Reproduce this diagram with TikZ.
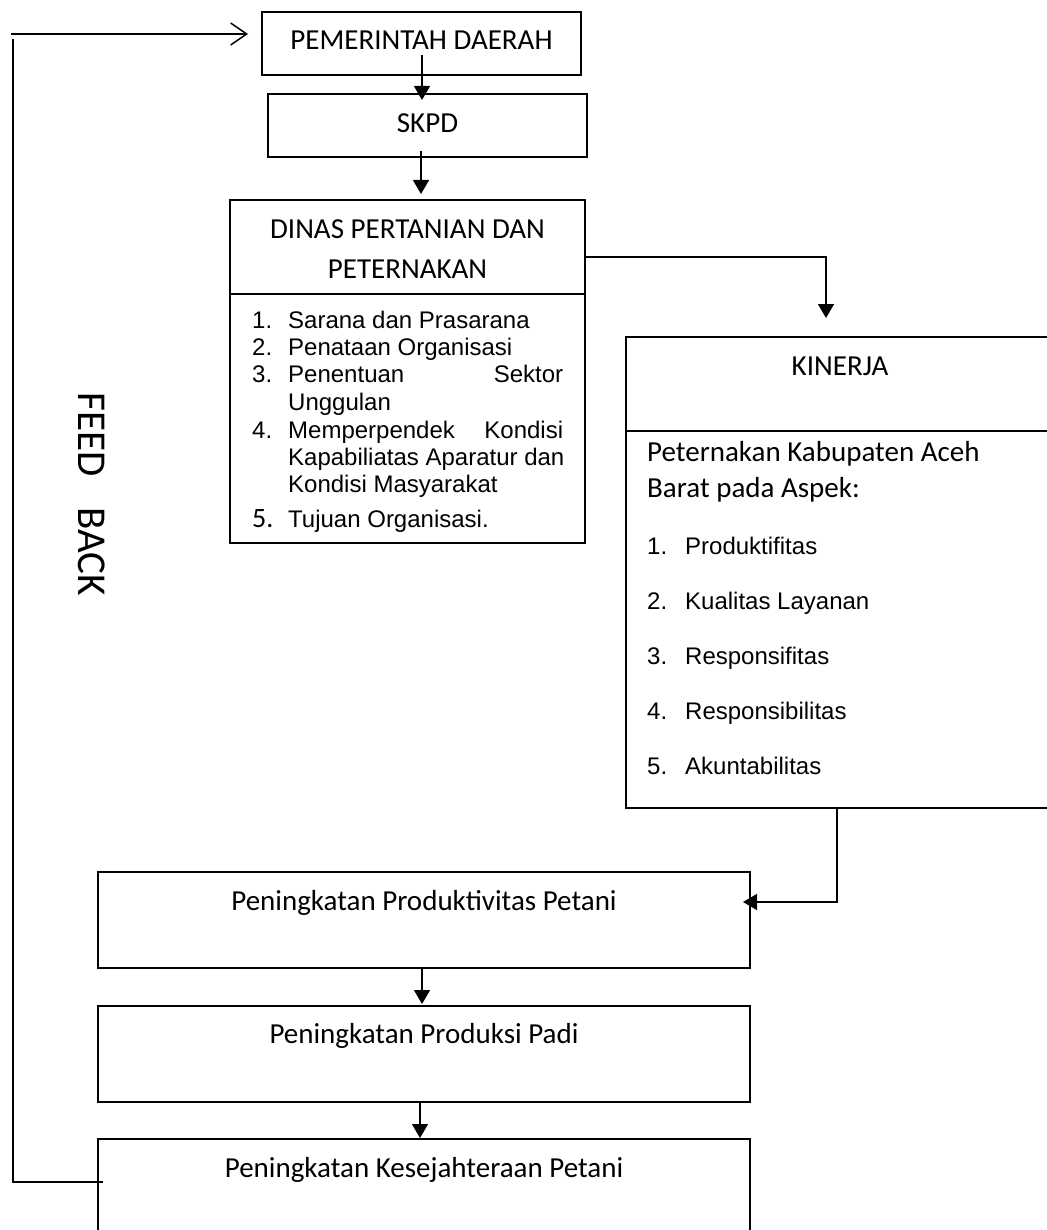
\documentclass[tikz,border=0pt]{standalone}
\usepackage{fontspec}
\setmainfont{Carlito}
\newfontfamily\arialf{Liberation Sans}
\usetikzlibrary{arrows.meta}
\begin{document}
\begin{tikzpicture}[x=1pt,y=-1pt,
  box/.style={draw, line width=1.8pt, inner sep=0pt, outer sep=0pt},
  conn/.style={line width=1.5pt},
  arr/.style={conn, -{Triangle[width=16pt,length=14pt]}},
  openarr/.style={conn, -{Straight Barb[length=16pt,width=22pt,line width=1.5pt]}},
  ctext/.style={inner sep=0pt, anchor=base, font=\fontsize{29}{35}\selectfont},
  ktext/.style={inner sep=0pt, anchor=base west, font=\fontsize{29}{35}\selectfont},
  ltext/.style={inner sep=0pt, anchor=base west, font=\arialf\fontsize{24}{27.5}\selectfont}]
\useasboundingbox (0,0) rectangle (1046,1230);
\fill[white] (0,0) rectangle (1046,1230);

% boxes
\node[box, minimum width=319pt, minimum height=63pt] (pem) at (421.5,43.5) {};
\node[box, minimum width=319pt, minimum height=63pt] (skpd) at (427.5,125.5) {};
\node[box, minimum width=355pt, minimum height=343pt] (dinas) at (407.5,371.5) {};
\node[box, minimum width=428pt, minimum height=471pt] (kin) at (840,572.5) {};
\node[box, minimum width=652pt, minimum height=96pt] (prod) at (424,920) {};
\node[box, minimum width=652pt, minimum height=96pt] (padi) at (424,1054) {};
\node[box, minimum width=652pt, minimum height=111pt] (kes) at (424,1194.5) {};

% dividers
\draw[line width=1.8pt] (230,294) -- (585,294);
\draw[line width=1.4pt] (626,431) -- (1054,431);

% titles
\node[ctext] (pemt) at (421.5,50) {PEMERINTAH DAERAH};
\node[ctext] (skpdt) at (427.5,133) {SKPD};
\node[ctext] (dt1) at (407.5,239) {DINAS PERTANIAN DAN};
\node[ctext] (dt2) at (407.5,279) {PETERNAKAN};
\node[ctext] (kint) at (840,375) {KINERJA};

% dinas list
\node[ltext] (n1) at (252,328) {1.};
\node[ltext] (i1) at (288,328) {Sarana dan Prasarana};
\node[ltext] (n2) at (252,355) {2.};
\node[ltext] (i2) at (288,355) {Penataan Organisasi};
\node[ltext] (n3) at (252,382) {3.};
\node[ltext] (i3) at (288,382) {\makebox[275pt][l]{Penentuan\hfill Sektor}};
\node[ltext] (i3b) at (288,410) {Unggulan};
\node[ltext] (n4) at (252,438) {4.};
\node[ltext] (i4) at (288,438) {\makebox[275pt][l]{Memperpendek\hfill Kondisi}};
\node[ltext] (i4b) at (288,465) {Kapabiliatas Aparatur dan};
\node[ltext] (i4c) at (288,492) {Kondisi Masyarakat};
\node[ktext, font=\fontsize{28}{30}\selectfont] (n5) at (252,527) {5.};
\node[ltext] (i5) at (288,527) {Tujuan Organisasi.};

% kinerja text
\node[ktext] (k1) at (647,461) {Peternakan Kabupaten Aceh};
\node[ktext] (k2) at (647,497) {Barat pada Aspek:};
\node[ltext] (m1) at (647,554) {1.};
\node[ltext] (j1) at (685,554) {Produktifitas};
\node[ltext] (m2) at (647,609) {2.};
\node[ltext] (j2) at (685,609) {Kualitas Layanan};
\node[ltext] (m3) at (647,664) {3.};
\node[ltext] (j3) at (685,664) {Responsifitas};
\node[ltext] (m4) at (647,719) {4.};
\node[ltext] (j4) at (685,719) {Responsibilitas};
\node[ltext] (m5) at (647,774) {5.};
\node[ltext] (j5) at (685,774) {Akuntabilitas};

% bottom texts
\node[ctext] (prodt) at (424,910) {Peningkatan Produktivitas Petani};
\node[ctext] (padit) at (424,1043) {Peningkatan Produksi Padi};
\node[ctext] (kest) at (424,1177) {Peningkatan Kesejahteraan Petani};

% feedback label
\node[inner sep=0pt, anchor=base, rotate=-90, font=\fontsize{41}{41}\selectfont] (fb) at (78,494) {FEED\hspace{31pt}BACK};

% connectors
\draw[arr] ([shift={(0.5,-20)}]pem.south) -- ([shift={(-5.5,6)}]skpd.north);
\draw[arr] ([shift={(-6.5,-6)}]skpd.south) -- ([shift={(13.5,-6)}]dinas.north);
\draw[arr] ([shift={(0,-114.5)}]dinas.east) -| ([shift={(-14,-19)}]kin.north);
\draw[arr] ([shift={(-3,0)}]kin.south) |- ([shift={(-7,-18)}]prod.east);
\draw[arr] ([shift={(-2,0)}]prod.south) -- ([shift={(-2,-2)}]padi.north);
\draw[arr] ([shift={(-4,0)}]padi.south) -- ([shift={(-4,-1)}]kes.north);

\coordinate (fbturn) at (13,39);
\coordinate (fbstart) at (11,34);
\draw[conn] ([shift={(5,-12.5)}]kes.west) -| (fbturn);
\draw[openarr] (fbstart) -- ([shift={(-14,-9.5)}]pem.west);
\end{tikzpicture}
\end{document}
